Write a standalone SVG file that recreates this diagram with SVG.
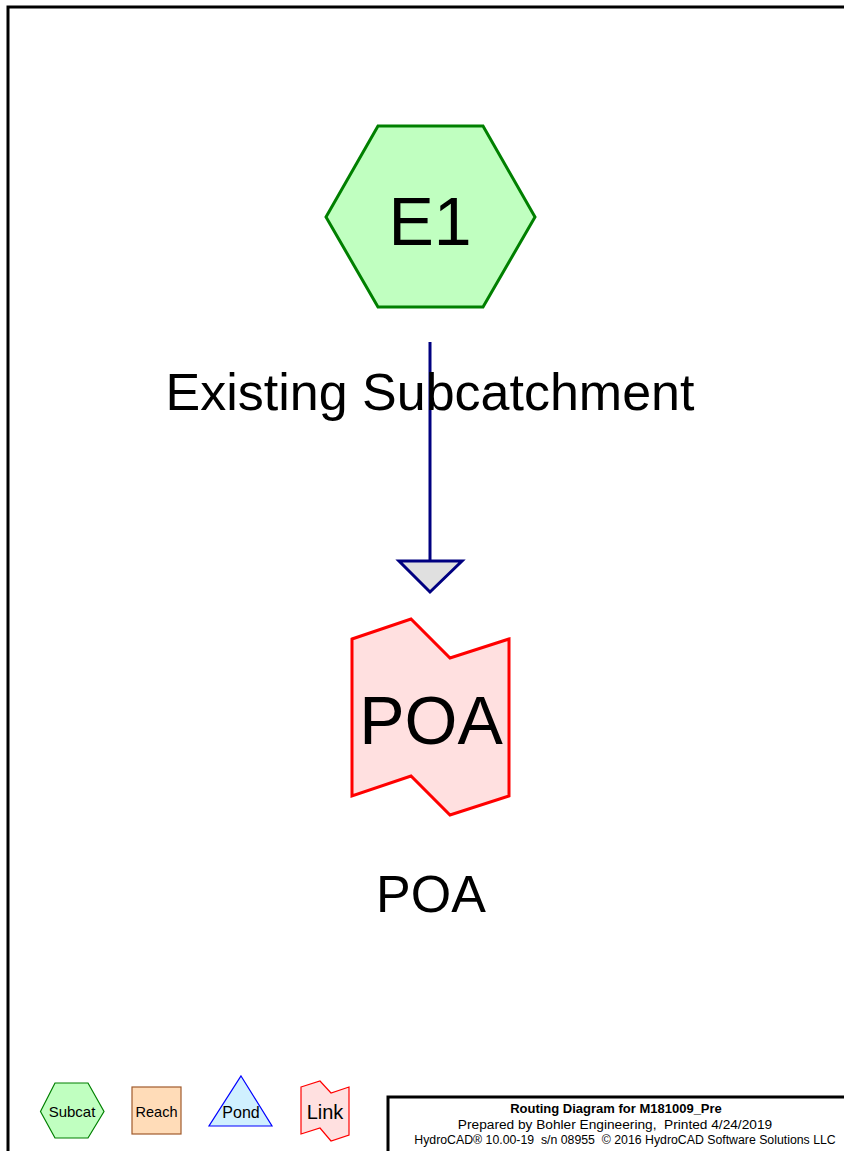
<svg xmlns="http://www.w3.org/2000/svg" width="844" height="1151" viewBox="0 0 844 1151">
<style>
text{font-family:"Liberation Sans",Arial,sans-serif;fill:#000;text-anchor:middle}
.subcat{fill:#c0ffc0;stroke:#008000;stroke-width:3;stroke-linejoin:miter}
.link{fill:#ffe0e0;stroke:#ff0000;stroke-width:3}
.conn{stroke:#000080;stroke-width:3;fill:none}
.head{fill:#e0e0e0;stroke:#000080;stroke-width:3}
.lsub{fill:#c0ffc0;stroke:#008000;stroke-width:1.2}
.lreach{fill:#ffdcb8;stroke:#a05a2c;stroke-width:1.2}
.lpond{fill:#d0f0ff;stroke:#0000ff;stroke-width:1.2}
.llink{fill:#ffe0e0;stroke:#ff0000;stroke-width:1.2}
</style>
<rect x="0" y="0" width="844" height="1151" fill="#fff"/>
<path d="M8 1151 V7 H844" fill="none" stroke="#000" stroke-width="3"/>
<g id="connectors">
<line class="conn" x1="430" y1="342" x2="430" y2="561"/>
<polygon class="head" points="399,561 462,561 430,592"/>
</g>
<g id="E1">
<polygon class="subcat" points="378,126 483,126 535,217 483,307 378,307 326,217"/>
<text x="430" y="245" font-size="68">E1</text>
<text x="430" y="410" font-size="52">Existing Subcatchment</text>
</g>
<g id="POA">
<polygon class="link" points="352,639 411,619 450,658 509,639 509,796 450,815 411,776 352,796"/>
<text x="431" y="744" font-size="68">POA</text>
<text x="431" y="912" font-size="52">POA</text>
</g>
<g id="legend">
<g id="legend-subcat">
<polygon class="lsub" points="55,1083 88,1083 104,1111.5 88,1138 55,1138 40.5,1111.5"/>
<text x="72" y="1117" font-size="15">Subcat</text>
</g>
<g id="legend-reach">
<rect class="lreach" x="132" y="1087" width="49" height="47"/>
<text x="156.5" y="1117" font-size="14.5">Reach</text>
</g>
<g id="legend-pond">
<polygon class="lpond" points="241,1076 272,1126 209,1126"/>
<text x="241" y="1118" font-size="16">Pond</text>
</g>
<g id="legend-link">
<polygon class="llink" points="301,1087 320,1081 331,1093 349,1087 349,1135 331,1141 320,1128 301,1134"/>
<text x="325" y="1119" font-size="20">Link</text>
</g>
</g>
<g id="title-block">
<path d="M388 1151 V1097 H844" fill="none" stroke="#000" stroke-width="3"/>
<text x="616" y="1113" font-size="13" font-weight="bold">Routing Diagram for M181009_Pre</text>
<text x="615" y="1129" font-size="13.7" xml:space="preserve">Prepared by Bohler Engineering,  Printed 4/24/2019</text>
<text x="625" y="1144" font-size="12.3" xml:space="preserve">HydroCAD® 10.00-19  s/n 08955  © 2016 HydroCAD Software Solutions LLC</text>
</g>
</svg>
